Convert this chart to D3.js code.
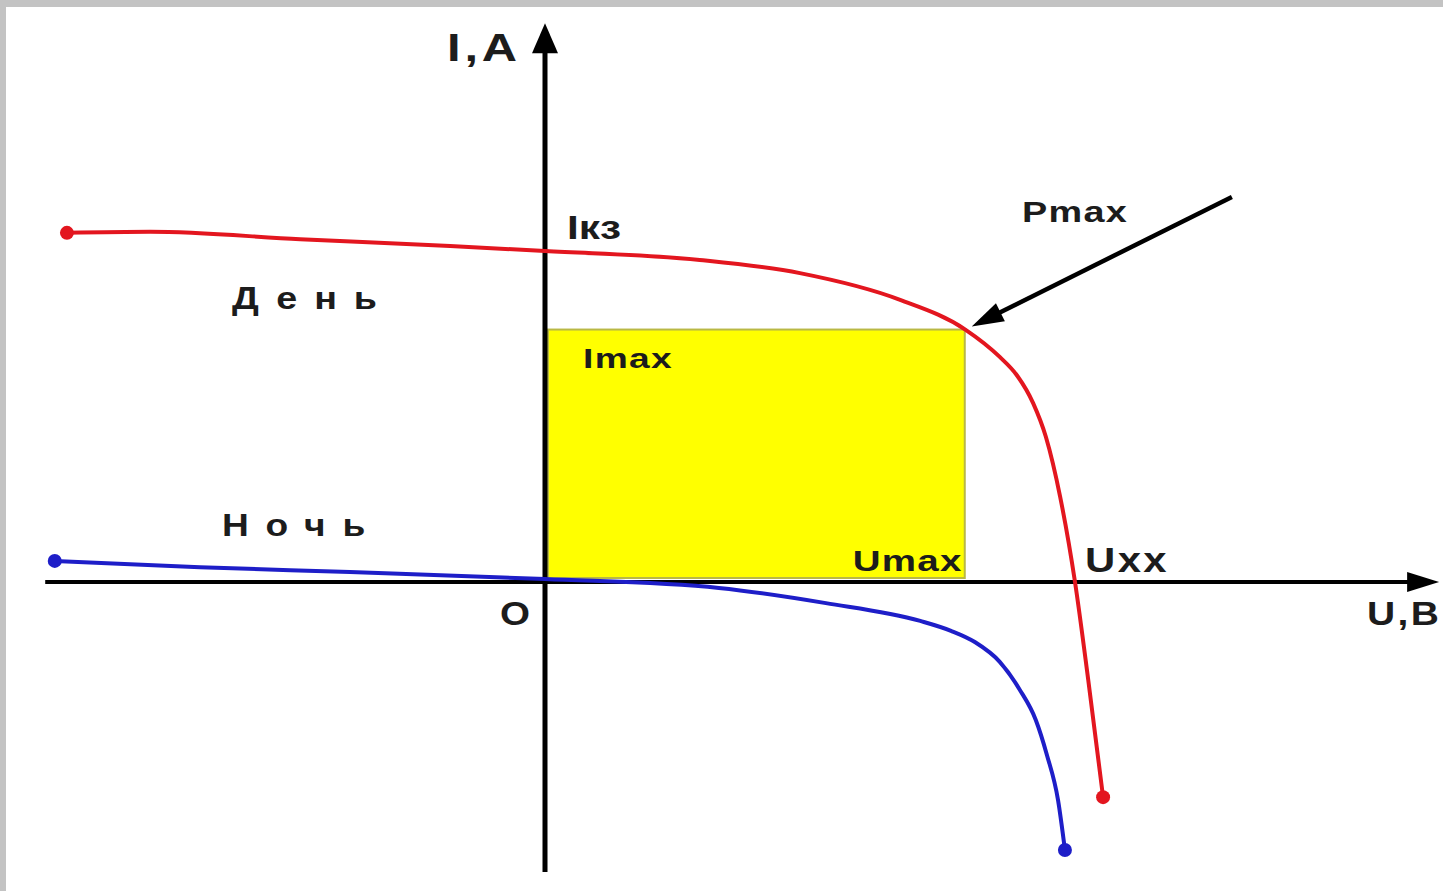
<!DOCTYPE html>
<html>
<head>
<meta charset="utf-8">
<script src="https://cdn.jsdelivr.net/npm/d3@7"></script>
<style>
body{margin:0;background:#fff;overflow:hidden;}
</style>
</head>
<body>
<div id="chart"></div>
<script>
// I-V curve of a solar cell, U in units of Uxx, I in units of Iкз
var dayU   = [-0.902, -0.745, -0.462, -0.179, 0, 0.292, 0.481, 0.670, 0.793, 0.858, 0.891, 0.921, 0.945, 0.972, 1.0, 1.025, 1.053]
var dayI   = [1.058, 1.061, 1.039, 1.018, 1.003, 0.976, 0.936, 0.855, 0.765, 0.682, 0.625, 0.542, 0.440, 0.258, 0, -0.297, -0.652]
var nightU = [-0.925, -0.651, -0.368, 0, 0.328, 0.530, 0.708, 0.766, 0.811, 0.858, 0.896, 0.926, 0.947, 0.968, 0.981]
var nightI = [0.064, 0.045, 0.030, 0.009, -0.018, -0.064, -0.118, -0.148, -0.182, -0.242, -0.327, -0.418, -0.524, -0.661, -0.812]

var Umax = 0.792, Imax = 0.765
var axisU = [-0.943, 1.687]
var axisI = [-0.879, 1.693]
var pointerFrom = [1.296, 1.167]

var curveNames = ["День", "Ночь"]
var axisNames  = ["I,A", "U,B", "O"]
var pointNames = ["Iкз", "Imax", "Umax", "Uxx", "Pmax"]

function makeIV(parentName){
  var width = 1443, height = 891

  var x = d3.scaleLinear().domain([0, 1]).range([545, 1075])
  var y = d3.scaleLinear().domain([0, 1]).range([582, 252])

  var svg = d3.select("#" + parentName)
    .append("svg")
    .attr("width", width)
    .attr("height", height)

  // grey frame on top and left
  svg.append("rect").attr("width", width).attr("height", height).attr("fill", "#c3c3c3")
  svg.append("rect").attr("x", 6).attr("y", 7).attr("width", width).attr("height", height).attr("fill", "#fff")

  // power rectangle
  svg.append("rect")
    .attr("x", x(0) + 3)
    .attr("y", y(Imax))
    .attr("width", x(Umax) - x(0) - 3)
    .attr("height", y(0) - y(Imax) - 4)
    .attr("fill", "#ffff00")
    .attr("stroke", "#b9b845")
    .attr("stroke-width", 2)

  // axes
  svg.append("line")
    .attr("x1", x(0)).attr("x2", x(0))
    .attr("y1", y(axisI[0])).attr("y2", y(axisI[1]) + 20)
    .attr("stroke", "#000").attr("stroke-width", 5)
  svg.append("path")
    .attr("d", `M${x(0)},${y(axisI[1])} L${x(0) - 13},${y(axisI[1]) + 30} L${x(0) + 13},${y(axisI[1]) + 30}Z`)
    .attr("fill", "#000")

  svg.append("line")
    .attr("x1", x(axisU[0])).attr("x2", x(axisU[1]) - 20)
    .attr("y1", y(0)).attr("y2", y(0))
    .attr("stroke", "#000").attr("stroke-width", 4)
  svg.append("path")
    .attr("d", `M${x(axisU[1])},${y(0)} L${x(axisU[1]) - 32},${y(0) - 10} L${x(axisU[1]) - 32},${y(0) + 10}Z`)
    .attr("fill", "#000")

  var line = d3.line()
    .x(d => x(d[0]))
    .y(d => y(d[1]))
    .curve(d3.curveMonotoneX)

  var day = d3.zip(dayU, dayI)
  var night = d3.zip(nightU, nightI)

  svg.append("path")
    .datum(night)
    .attr("fill", "none")
    .attr("stroke", "#1e1ec8")
    .attr("stroke-width", 4)
    .attr("d", line)

  svg.append("path")
    .datum(day)
    .attr("fill", "none")
    .attr("stroke", "#e3161f")
    .attr("stroke-width", 4)
    .attr("d", line)

  // end dots
  svg.selectAll("circle.day")
    .data([day[0], day[day.length - 1]])
    .join("circle")
    .attr("cx", d => x(d[0])).attr("cy", d => y(d[1]))
    .attr("r", 7).attr("fill", "#e3161f")
  svg.selectAll("circle.night")
    .data([night[0], night[night.length - 1]])
    .join("circle")
    .attr("cx", d => x(d[0])).attr("cy", d => y(d[1]))
    .attr("r", 7).attr("fill", "#1e1ec8")

  // pointer to Pmax
  var tx = x(Umax) + 7, ty = y(Imax) - 3
  var fx = x(pointerFrom[0]), fy = y(pointerFrom[1])
  var len = Math.hypot(tx - fx, ty - fy)
  var ux = (tx - fx) / len, uy = (ty - fy) / len
  var bx = tx - ux * 32, by = ty - uy * 32
  svg.append("line")
    .attr("x1", fx).attr("y1", fy).attr("x2", bx + ux * 4).attr("y2", by + uy * 4)
    .attr("stroke", "#000").attr("stroke-width", 4.5)
  svg.append("path")
    .attr("d", `M${tx},${ty} L${bx - uy * 10},${by + ux * 10} L${bx + uy * 10},${by - ux * 10}Z`)
    .attr("fill", "#000")

  function label(txt, px, py, size, w, spacing){
    svg.append("text")
      .attr("x", px).attr("y", py)
      .attr("font-family", "Liberation Sans, Arial, sans-serif")
      .attr("font-weight", "bold")
      .attr("font-size", size)
      .attr("fill", "#1c1c1c")
      .attr("letter-spacing", spacing || 0)
      .attr("textLength", w)
      .attr("lengthAdjust", "spacingAndGlyphs")
      .text(txt)
  }

  label(axisNames[0], x(0) - 98, y(axisI[1]) + 38, 38, 74, 3)
  label(axisNames[1], x(axisU[1]) - 72, y(0) + 43, 34, 74, 2)
  label(axisNames[2], x(0) - 45, y(0) + 43, 34, 30)

  label(curveNames[0], 232, 309, 31, 162, 14)
  label(curveNames[1], 222, 536, 31, 160, 14)

  label(pointNames[0], x(0) + 22, y(1) - 13, 34, 54)
  label(pointNames[1], x(0) + 38, y(Imax) + 38, 28, 90, 1)
  label(pointNames[2], x(Umax) - 112, y(0) - 11, 30, 110, 1)
  label(pointNames[3], x(1) + 10, y(0) - 10, 35, 84, 2)
  label(pointNames[4], 1022, 222, 30, 106, 1)
}

makeIV("chart")
</script>
</body>
</html>
